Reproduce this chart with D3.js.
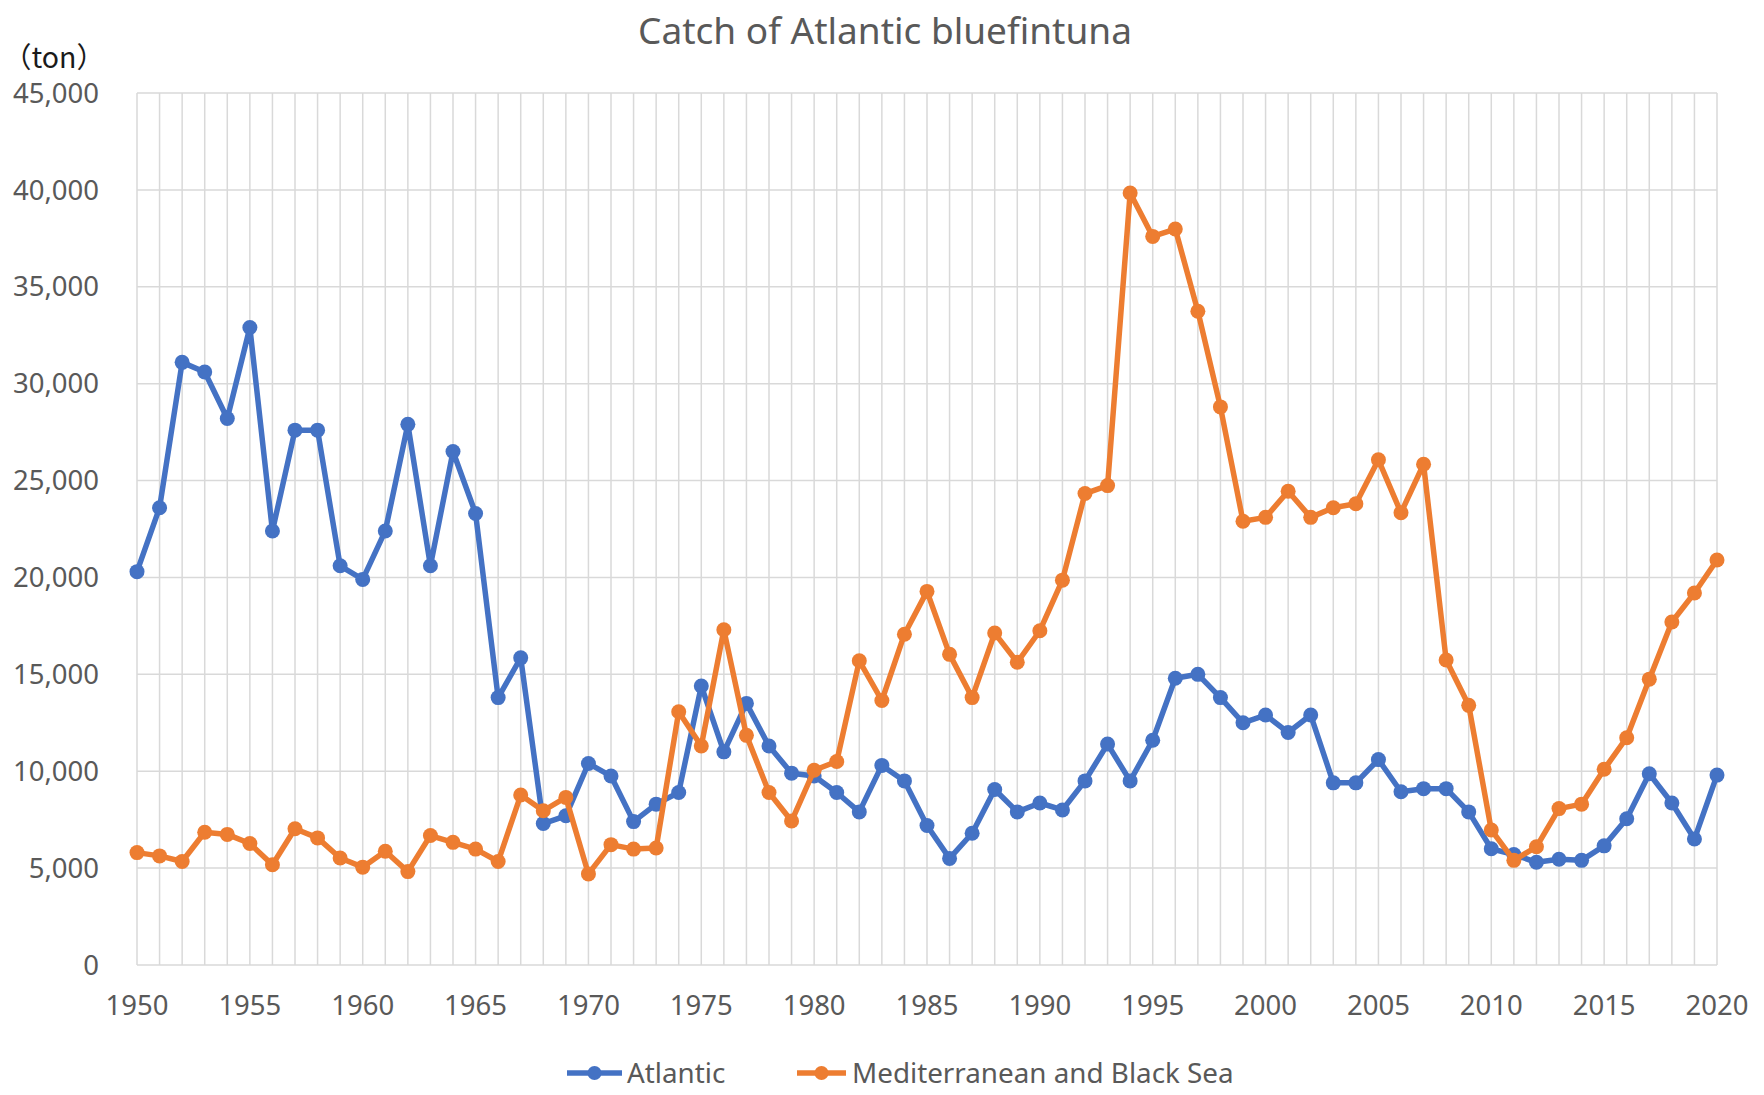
<!DOCTYPE html>
<html><head><meta charset="utf-8">
<script src="https://cdn.jsdelivr.net/npm/d3@7"></script>
<style>
html,body{margin:0;padding:0;background:#fff;}
svg{display:block;}
text{font-family:"Noto Sans",sans-serif;}
</style></head>
<body>
<svg id="chart" width="1764" height="1095"></svg>
<script>
const years = d3.range(1950, 2021);
const atlantic = [20300,23600,31100,30600,28200,32900,22400,27600,27600,20600,
  19900,22400,27900,20600,26500,23300,13800,15850,7300,7700,
  10400,9750,7400,8300,8900,14400,11000,13500,11300,9900,
  9750,8900,7900,10300,9500,7200,5500,6800,9060,7900,
  8360,8000,9500,11400,9500,11600,14800,15000,13800,12500,
  12900,12000,12900,9400,9400,10600,8940,9100,9100,7900,
  6000,5700,5300,5460,5400,6150,7550,9870,8360,6500,9800];
const mediterranean = [5800,5630,5340,6850,6740,6270,5170,7030,6560,5520,
  5050,5870,4820,6680,6330,5980,5340,8770,7960,8650,
  4700,6210,5980,6040,13070,11300,17300,11850,8900,7430,
  10050,10500,15700,13650,17070,19280,16030,13800,17130,15620,
  17250,19860,24330,24740,39840,37600,37980,33740,28800,22900,
  23100,24450,23100,23600,23800,26070,23340,25840,15740,13400,
  6970,5400,6100,8070,8300,10100,11730,14750,17700,19200,20900];
const yTicks = [0,5000,10000,15000,20000,25000,30000,35000,40000,45000];
const xTickLabels = [1950,1955,1960,1965,1970,1975,1980,1985,1990,1995,2000,2005,2010,2015,2020];
const seriesNames = ["Atlantic","Mediterranean and Black Sea"];
const colors = ["#4472C4","#ED7D31"];

const svg = d3.select("#chart");
const L = 137, R = 1717, T = 93, B = 965;
const x = d3.scaleLinear().domain([1950,2020]).range([L,R]);
const y = d3.scaleLinear().domain([0,45000]).range([B,T]);

// grid
const g = svg.append("g");
g.selectAll("line.v").data(years).join("line")
  .attr("x1",d=>x(d)).attr("x2",d=>x(d)).attr("y1",T).attr("y2",B)
  .attr("stroke","#D9D9D9").attr("stroke-width",1.5);
g.selectAll("line.h").data(yTicks).join("line")
  .attr("x1",L).attr("x2",R).attr("y1",d=>y(d)).attr("y2",d=>y(d))
  .attr("stroke","#D9D9D9").attr("stroke-width",1.5);

// axes labels
const fmt = d3.format(",");
svg.append("g").selectAll("text").data(yTicks).join("text")
  .attr("x",99).attr("y",d=>y(d)).attr("dy","0.35em")
  .attr("text-anchor","end").attr("font-size",27.5).attr("fill","#595959")
  .text(d=>fmt(d));
svg.append("g").selectAll("text").data(xTickLabels).join("text")
  .attr("x",d=>x(d)).attr("y",1015)
  .attr("text-anchor","middle").attr("font-size",27.5).attr("fill","#595959")
  .text(d=>d);

// title & unit
svg.append("text").attr("x",885).attr("y",44).attr("text-anchor","middle")
  .attr("font-size",37).attr("fill","#595959").text("Catch of Atlantic bluefintuna");
svg.append("text").attr("x",3).attr("y",67.5)
  .attr("font-size",28.5).attr("fill","#1a1a1a").style("font-family","'Noto Sans CJK JP'")
  .text("（ton）");

// series
const line = d3.line().x((d,i)=>x(years[i])).y(d=>y(d));
[atlantic, mediterranean].forEach((s,k)=>{
  const sg = svg.append("g");
  sg.append("path").datum(s).attr("d",line).attr("fill","none")
    .attr("stroke",colors[k]).attr("stroke-width",5.5).attr("stroke-linejoin","round");
  sg.selectAll("circle").data(s).join("circle")
    .attr("cx",(d,i)=>x(years[i])).attr("cy",d=>y(d)).attr("r",7.5)
    .attr("fill",colors[k]);
});

// legend
const legend = [{x1:567,x2:622,tx:627},{x1:797,x2:846,tx:852}];
legend.forEach((l,k)=>{
  const lg = svg.append("g");
  lg.append("line").attr("x1",l.x1).attr("x2",l.x2).attr("y1",1073).attr("y2",1073)
    .attr("stroke",colors[k]).attr("stroke-width",5.5);
  lg.append("circle").attr("cx",(l.x1+l.x2)/2).attr("cy",1073).attr("r",7).attr("fill",colors[k]);
  lg.append("text").attr("x",l.tx).attr("y",1073).attr("dy","0.35em")
    .attr("font-size",27.8).attr("fill","#595959").text(seriesNames[k]);
});
</script>
</body></html>
